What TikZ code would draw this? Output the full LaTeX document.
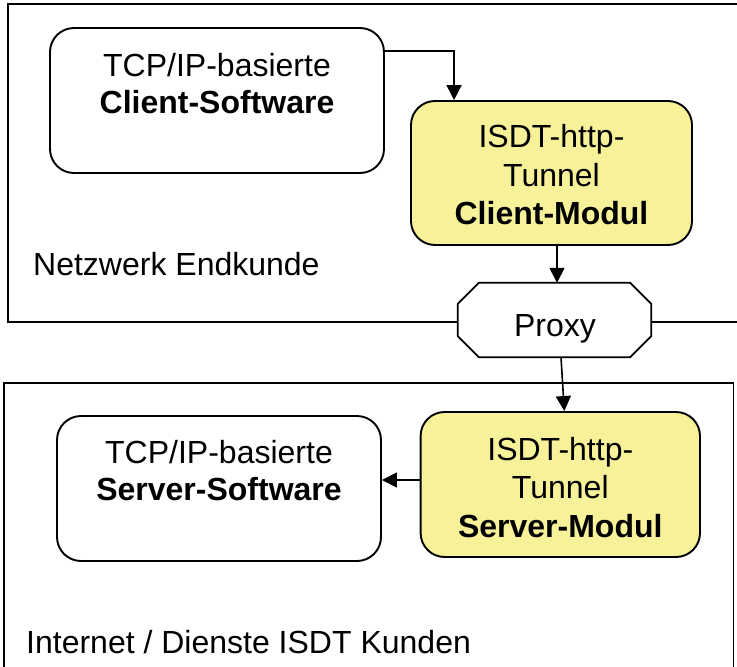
\documentclass[tikz,border=0pt]{standalone}
\usepackage{fontspec}
\setmainfont{Liberation Sans}
\usetikzlibrary{arrows.meta,calc}
\definecolor{modfill}{RGB}{247,242,154}
\tikzset{
  box/.style={draw=black, line width=1.9pt, rounded corners=24pt, inner sep=0pt, fill=white},
  modbox/.style={box, fill=modfill},
  zone/.style={draw=black, line width=1.9pt},
  arr/.style={draw=black, line width=1.6pt, -{Triangle[length=15pt,width=15pt]}},
  lbl/.style={anchor=base, inner sep=0pt, font=\fontsize{32}{38}\selectfont},
  lbll/.style={anchor=base west, inner sep=0pt, font=\fontsize{32}{38}\selectfont}
}
\begin{document}
\begin{tikzpicture}[x=1pt,y=-1pt]
\clip (0,0) rectangle (737,667);
\fill[white] (0,0) rectangle (737,667);
% zones
\draw[zone] (8,4) rectangle (760,321.7);
\draw[zone] (4,383) rectangle (733.5,700);
% boxes
\node[box, minimum width=334pt, minimum height=145pt] (cs) at (217,100.5) {};
\node[modbox, minimum width=281pt, minimum height=144pt] (cm) at (551.5,173) {};
\node[box, minimum width=324pt, minimum height=145pt] (ss) at (219,488.5) {};
\node[modbox, minimum width=279.4pt, minimum height=145pt] (sm) at (560.3,484.5) {};
% proxy
\node[minimum width=193pt, minimum height=74pt, inner sep=0pt] (proxy) at (554.5,320) {};
\draw[fill=white, line width=1.8pt]
  ($(proxy.north west)+(21,0)$) -- ($(proxy.north east)+(-21,0)$)
  -- ($(proxy.north east)+(0,21)$) -- ($(proxy.south east)+(0,-21)$)
  -- ($(proxy.south east)+(-21,0)$) -- ($(proxy.south west)+(21,0)$)
  -- ($(proxy.south west)+(0,-21)$) -- ($(proxy.north west)+(0,21)$) -- cycle;
% texts
\node[lbl] (t1) at (217,76) {TCP/IP-basierte};
\node[lbl] (t2) at (217,113) {\textbf{Client-Software}};
\node[lbl] (t3) at (551.5,147) {ISDT-http-};
\node[lbl] (t4) at (551.5,186) {Tunnel};
\node[lbl] (t5) at (551.5,224) {\textbf{Client-Modul}};
\node[lbl] (t6) at (555,336) {Proxy};
\node[lbl] (t7) at (219,463) {TCP/IP-basierte};
\node[lbl] (t8) at (219,500) {\textbf{Server-Software}};
\node[lbl] (t9) at (560.3,460) {ISDT-http-};
\node[lbl] (t10) at (560.3,498) {Tunnel};
\node[lbl] (t11) at (560.3,537) {\textbf{Server-Modul}};
\node[lbll] (t12) at (33,275) {Netzwerk Endkunde};
\node[lbll] (t13) at (26,653) {Internet / Dienste ISDT Kunden};
% connectors
\draw[arr] ([yshift=-24pt]cs.north east) -| ([xshift=44pt]cm.north west);
\draw[arr] ([xshift=5.5pt]cm.south) -- ([xshift=5.5pt]cm.south |- proxy.north);
\draw[arr] ([xshift=6.5pt]proxy.south) -- ([xshift=4pt]sm.north);
\draw[arr] ([yshift=4.5pt]sm.west) -- ([yshift=8.5pt]ss.east);
\end{tikzpicture}
\end{document}
